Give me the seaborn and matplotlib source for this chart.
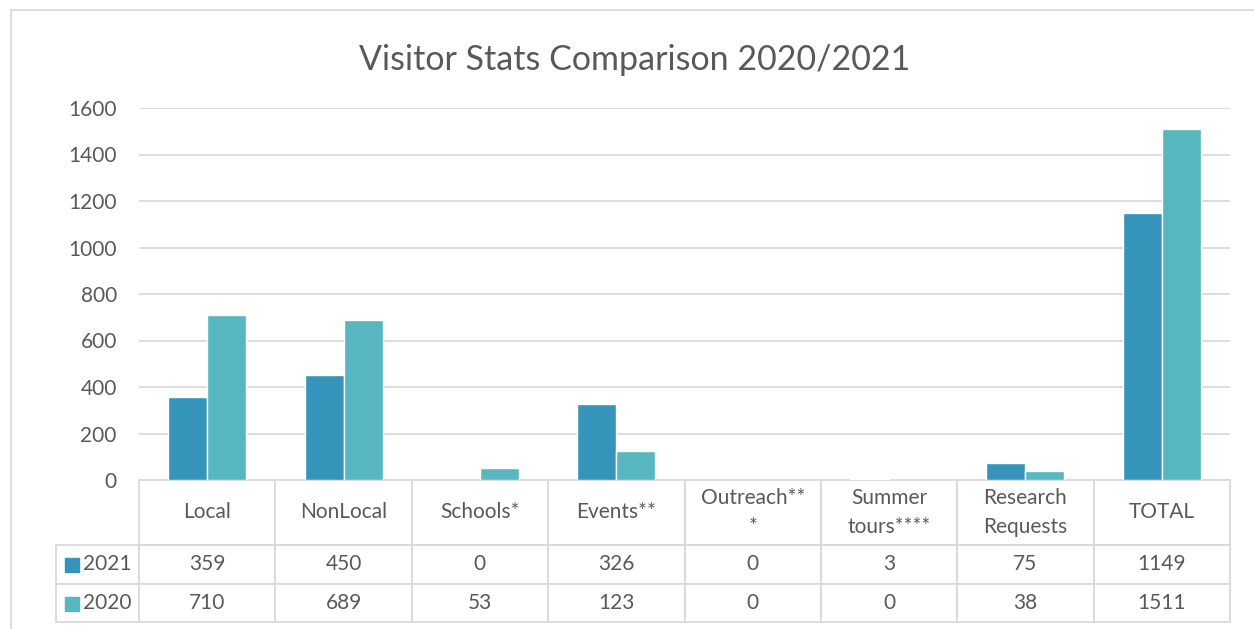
import numpy as np
import pandas as pd
import matplotlib
matplotlib.use("Agg")
import matplotlib.pyplot as plt
from matplotlib.patches import Rectangle
from matplotlib.lines import Line2D
import seaborn as sns

categories = ["Local", "NonLocal", "Schools*", "Events**", "Outreach**\n*",
              "Summer\ntours****", "Research\nRequests", "TOTAL"]
years = ["2021", "2020"]
visitors_2021 = [359, 450, 0, 326, 0, 3, 75, 1149]
visitors_2020 = [710, 689, 53, 123, 0, 0, 38, 1511]
yticks = [0, 200, 400, 600, 800, 1000, 1200, 1400, 1600]

colors = {"2021": "#3494BA", "2020": "#58B6C0"}
text_col = "#595959"
grid_col = "#D9D9D9"

df = pd.DataFrame({
    "Category": categories * 2,
    "Year": [years[0]] * len(categories) + [years[1]] * len(categories),
    "Visitors": visitors_2021 + visitors_2020,
})

sns.set_style("white")
plt.rcParams["font.family"] = ["Lato", "DejaVu Sans"]

W, H = 1254, 629
fig = plt.figure(figsize=(W / 100, H / 100), dpi=100)

# plot area in pixel coords
x0, x1 = 139, 1230
y_top, y_zero = 108, 480
ax = fig.add_axes([x0 / W, 1 - y_zero / H, (x1 - x0) / W, (y_zero - y_top) / H])

sns.barplot(data=df, x="Category", y="Visitors", hue="Year", hue_order=years,
            palette=colors, width=0.572, ax=ax, legend=False, saturation=1)

ax.set_ylim(0, 1600)
ax.set_xlim(-0.5, len(categories) - 0.5)
ax.set_yticks(yticks)
ax.set_yticklabels([str(v) for v in yticks], fontsize=15, color=text_col)
ax.tick_params(axis="y", length=0, pad=16)
ax.set_xticks([])
ax.set_xlabel("")
ax.set_ylabel("")
ax.grid(axis="y", color=grid_col, linewidth=1.3)
ax.set_axisbelow(True)
for s in ax.spines.values():
    s.set_visible(False)

# data table beneath the bars; first column holds the series names
cell_text = [[years[0]] + [str(v) for v in visitors_2021],
             [years[1]] + [str(v) for v in visitors_2020]]
label_w = 83
tbl_left = -label_w / (x1 - x0)
tbl_bottom = (y_zero - 622) / (y_zero - y_top)
tbl = ax.table(cellText=cell_text, colLabels=[""] + categories, cellLoc="center",
               bbox=[tbl_left, tbl_bottom, 1 - tbl_left, -tbl_bottom])
tbl.auto_set_font_size(False)
for (r, c), cell in tbl.get_celld().items():
    cell.set_edgecolor(grid_col)
    cell.set_linewidth(1.3)
    cell.get_text().set_color(text_col)
    cell.get_text().set_fontsize(15)
    cell.set_height(65 if r == 0 else 38.5)
    cell.set_width(label_w if c == 0 else (x1 - x0) / len(categories))
    if r == 0:
        cell.get_text().set_linespacing(1.55)
    if c == 0:
        if r == 0:
            cell.set_visible(False)
        cell.get_text().set_horizontalalignment("right")
        cell._loc = "right"
        cell.PAD = 0.085

# legend keys in the row label cells
for i, y in enumerate(years):
    cy = 565 + i * 38.5
    fig.patches.append(Rectangle((65 / W, 1 - (cy + 7) / H), 14 / W, 14 / H,
                                 transform=fig.transFigure, color=colors[y]))

# chart frame (top and left edges visible)
fig.lines.append(Line2D([11 / W, 1], [1 - 10 / H, 1 - 10 / H], transform=fig.transFigure,
                        color=grid_col, linewidth=1.3))
fig.lines.append(Line2D([11 / W, 11 / W], [1 - 10 / H, 0], transform=fig.transFigure,
                        color=grid_col, linewidth=1.3))

fig.text(635 / W, 1 - 60 / H, "Visitor Stats Comparison 2020/2021", ha="center",
         va="center", fontsize=24.5, color=text_col)

fig.savefig("out.png", dpi=100)
